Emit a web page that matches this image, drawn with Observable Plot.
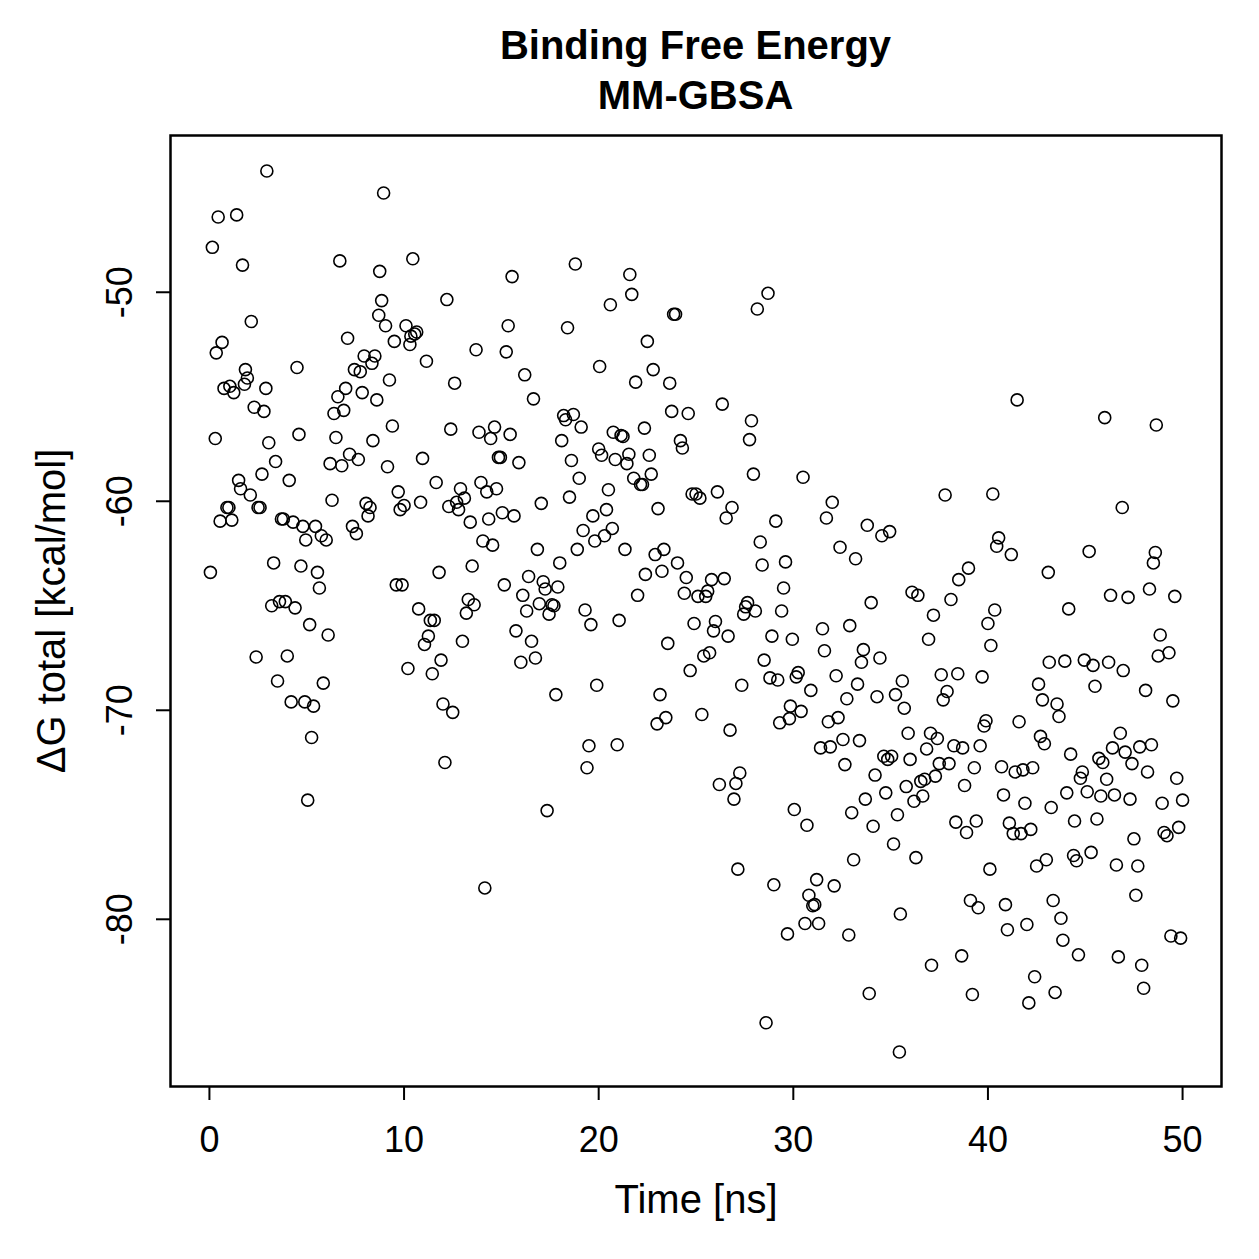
<!DOCTYPE html>
<html>
<head>
<meta charset="utf-8">
<script src="https://cdn.jsdelivr.net/npm/d3@7"></script>
<script src="https://cdn.jsdelivr.net/npm/@observablehq/plot@0.6"></script>
<style>
  body { margin: 0; background: #fff; }
  #wrap { position: relative; width: 1259px; height: 1259px; font-family: "Liberation Sans", Arial, Helvetica, sans-serif; }
  #title { position: absolute; left: 170px; width: 1051px; top: 20px; text-align: center; font-weight: bold; font-size: 40px; line-height: 50px; color: #000; }
  #chart { position: absolute; left: 0; top: 0; }
</style>
</head>
<body>
<div id="wrap">
  <div id="chart"></div>
  <div id="title">Binding Free Energy<br>MM-GBSA</div>
</div>
<script>
const titleLines = ["Binding Free Energy", "MM-GBSA"];
const xLabel = "Time [ns]";
const yLabel = "ΔG total [kcal/mol]";
const xTicks = [0, 10, 20, 30, 40, 50];
const yTicks = [-50, -60, -70, -80];

const time = [
0.05,0.15,0.3,0.35,0.45,0.55,0.65,0.75,0.9,1.0,1.05,1.15,1.25,1.4,1.5,1.6,1.7,1.8,1.85,1.95,
2.1,2.15,2.3,2.4,2.5,2.6,2.7,2.8,2.9,2.95,3.05,3.2,3.3,3.4,3.5,3.6,3.7,3.8,3.9,4.0,
4.1,4.2,4.3,4.4,4.5,4.6,4.7,4.8,4.9,4.95,5.05,5.15,5.25,5.35,5.45,5.55,5.65,5.75,5.85,6.0,
6.1,6.2,6.3,6.4,6.5,6.6,6.7,6.8,6.9,7.0,7.1,7.2,7.35,7.45,7.55,7.65,7.75,7.85,7.95,8.05,
8.15,8.25,8.35,8.4,8.5,8.6,8.7,8.75,8.85,8.95,9.05,9.15,9.25,9.4,9.5,9.6,9.7,9.8,9.9,10.0,
10.1,10.2,10.3,10.35,10.45,10.55,10.65,10.75,10.85,10.95,11.05,11.15,11.25,11.35,11.45,11.55,11.65,11.8,11.9,12.0,
12.1,12.2,12.3,12.4,12.5,12.6,12.7,12.8,12.9,13.0,13.1,13.2,13.3,13.4,13.5,13.6,13.7,13.85,13.95,14.05,
14.15,14.25,14.35,14.45,14.55,14.65,14.75,14.85,14.95,15.05,15.15,15.25,15.35,15.45,15.55,15.65,15.75,15.9,16.0,16.1,
16.2,16.3,16.4,16.55,16.65,16.75,16.85,16.95,17.05,17.15,17.25,17.35,17.45,17.6,17.7,17.8,17.9,18.0,18.1,18.2,
18.3,18.4,18.5,18.6,18.7,18.8,18.9,19.0,19.1,19.2,19.3,19.4,19.5,19.6,19.7,19.8,19.9,20.0,20.05,20.15,
20.3,20.4,20.5,20.6,20.7,20.75,20.85,20.95,21.05,21.15,21.25,21.35,21.45,21.55,21.6,21.7,21.8,21.9,22.0,22.15,
22.25,22.35,22.4,22.5,22.6,22.7,22.8,22.9,23.0,23.05,23.15,23.25,23.35,23.45,23.55,23.65,23.75,23.85,23.95,24.05,
24.2,24.3,24.4,24.5,24.6,24.7,24.8,24.9,25.0,25.1,25.2,25.3,25.4,25.5,25.6,25.7,25.8,25.9,26.0,26.1,
26.2,26.35,26.45,26.55,26.65,26.75,26.85,26.95,27.05,27.15,27.25,27.35,27.45,27.55,27.65,27.75,27.85,27.95,28.05,28.15,
28.3,28.4,28.5,28.6,28.7,28.8,28.9,29.0,29.1,29.2,29.3,29.4,29.5,29.6,29.7,29.8,29.85,29.95,30.05,30.15,
30.25,30.4,30.5,30.6,30.7,30.8,30.9,31.0,31.1,31.2,31.3,31.4,31.5,31.6,31.7,31.8,31.9,32.0,32.1,32.2,
32.3,32.4,32.55,32.65,32.75,32.85,32.9,33.0,33.1,33.2,33.3,33.4,33.5,33.6,33.7,33.8,33.9,34.0,34.1,34.2,
34.3,34.45,34.55,34.65,34.75,34.85,34.95,35.05,35.15,35.25,35.35,35.45,35.5,35.6,35.7,35.8,35.9,36.0,36.1,36.2,
36.3,36.4,36.55,36.65,36.75,36.85,36.95,37.05,37.1,37.2,37.3,37.4,37.5,37.6,37.7,37.8,37.9,38.0,38.1,38.25,
38.35,38.45,38.5,38.65,38.7,38.8,38.9,39.0,39.1,39.2,39.3,39.4,39.5,39.6,39.7,39.8,39.9,40.0,40.1,40.15,
40.25,40.35,40.45,40.55,40.7,40.8,40.9,41.0,41.1,41.2,41.3,41.4,41.5,41.6,41.7,41.8,41.9,42.0,42.1,42.2,
42.3,42.4,42.5,42.6,42.7,42.8,42.9,43.0,43.1,43.15,43.25,43.35,43.45,43.55,43.65,43.75,43.85,43.95,44.05,44.15,
44.25,44.4,44.45,44.55,44.65,44.75,44.85,44.95,45.1,45.2,45.3,45.4,45.5,45.6,45.7,45.8,45.9,46.0,46.1,46.2,
46.3,46.4,46.5,46.6,46.7,46.8,46.9,46.95,47.05,47.2,47.3,47.4,47.5,47.6,47.7,47.8,47.9,48.0,48.1,48.2,
48.3,48.4,48.5,48.6,48.65,48.75,48.85,48.95,49.05,49.2,49.3,49.4,49.5,49.6,49.7,49.8,49.9,50.0
];

const dG = [
-63.4,-47.85,-57.0,-52.9,-46.4,-60.95,-52.4,-54.6,-60.3,-60.3,-54.5,-60.9,-54.8,-46.3,-59.0,-59.4,-48.7,-54.4,-53.7,-54.1,
-59.7,-51.4,-55.5,-67.45,-60.3,-60.3,-58.7,-55.7,-54.6,-44.2,-57.2,-65.0,-62.95,-58.1,-68.6,-64.8,-60.85,-60.85,-64.8,-67.4,
-59.0,-69.6,-61.0,-65.1,-53.6,-56.8,-63.1,-61.2,-69.6,-61.85,-74.3,-65.9,-71.3,-69.8,-61.2,-63.4,-64.15,-61.65,-68.7,-61.85,
-66.4,-58.2,-59.95,-55.8,-56.95,-55.0,-48.5,-58.3,-55.65,-54.6,-52.2,-57.75,-61.2,-53.7,-61.55,-58.0,-53.8,-54.8,-53.05,-60.1,
-60.7,-60.3,-53.4,-57.1,-53.05,-55.15,-51.1,-49.0,-50.4,-45.25,-51.6,-58.35,-54.2,-56.4,-52.35,-64.0,-59.55,-60.4,-64.0,-60.2,
-51.6,-68.0,-52.5,-52.1,-48.4,-52.0,-51.9,-65.15,-60.05,-57.95,-66.85,-53.3,-66.45,-65.7,-68.25,-65.7,-59.1,-63.4,-67.6,-69.7,
-72.5,-50.35,-60.25,-56.55,-70.1,-54.35,-60.05,-60.4,-59.4,-66.7,-59.85,-65.35,-64.7,-61.0,-63.1,-64.95,-52.75,-56.7,-59.1,-61.9,
-78.5,-59.55,-60.85,-57.0,-62.1,-56.45,-59.4,-57.9,-57.9,-60.55,-64.0,-52.85,-51.6,-56.8,-49.25,-60.7,-66.2,-58.15,-67.7,-64.5,
-53.95,-65.25,-63.6,-66.7,-55.1,-67.5,-62.3,-64.9,-60.1,-63.85,-64.2,-74.8,-65.4,-64.95,-65.0,-69.25,-64.1,-62.95,-57.1,-55.9,
-56.1,-51.7,-59.8,-58.05,-55.85,-48.65,-62.3,-58.9,-56.45,-61.4,-65.2,-72.75,-71.7,-65.9,-60.7,-61.9,-68.8,-57.5,-53.55,-57.8,
-61.65,-60.4,-59.45,-50.6,-61.3,-56.7,-58.0,-71.65,-65.7,-56.85,-56.9,-62.3,-58.2,-57.75,-49.15,-50.1,-58.9,-54.3,-64.5,-59.2,
-59.2,-56.5,-63.5,-52.35,-57.8,-58.7,-53.7,-62.55,-70.65,-60.35,-69.25,-63.35,-62.3,-70.35,-66.8,-54.35,-55.7,-51.05,-51.05,-62.95,
-57.1,-57.45,-64.4,-63.65,-55.8,-68.1,-59.65,-65.85,-59.65,-64.55,-59.85,-70.2,-67.4,-64.55,-64.3,-67.25,-63.75,-66.2,-65.75,-59.55,
-73.55,-55.35,-63.7,-60.8,-66.45,-70.95,-60.3,-74.25,-73.5,-77.6,-73.0,-68.8,-65.4,-65.05,-64.85,-57.05,-56.15,-58.7,-65.25,-50.8,
-61.95,-63.05,-67.6,-84.95,-50.05,-68.45,-66.45,-78.35,-60.95,-68.55,-70.6,-65.25,-64.15,-62.9,-80.7,-70.4,-69.8,-66.6,-74.75,-68.4,
-68.2,-70.05,-58.85,-80.2,-75.5,-78.85,-69.05,-79.35,-79.3,-78.1,-80.2,-71.8,-66.1,-67.15,-60.8,-70.55,-71.75,-60.05,-78.4,-68.35,
-70.35,-62.2,-71.4,-72.6,-69.45,-80.75,-65.95,-74.9,-77.15,-62.75,-68.75,-71.45,-67.7,-67.1,-74.25,-61.15,-83.55,-64.85,-75.55,-73.1,
-69.35,-67.5,-61.65,-72.2,-73.95,-72.35,-61.45,-72.2,-76.4,-69.25,-75.0,-86.35,-79.75,-68.6,-69.9,-73.65,-71.1,-72.35,-64.35,-74.35,
-77.05,-64.5,-73.4,-74.1,-73.3,-71.85,-66.6,-71.1,-82.2,-65.45,-73.15,-71.35,-72.55,-68.3,-69.5,-59.7,-69.1,-72.55,-64.7,-71.7,
-75.35,-68.25,-63.75,-81.75,-71.8,-73.6,-75.85,-63.2,-79.1,-83.6,-72.75,-75.3,-79.45,-71.7,-68.4,-70.75,-70.5,-65.85,-77.6,-66.9,
-59.65,-65.2,-62.15,-61.75,-72.7,-74.05,-79.3,-80.5,-75.4,-62.55,-75.9,-72.95,-55.15,-70.55,-75.9,-72.85,-74.45,-80.25,-84.0,-75.7,
-72.75,-82.75,-77.45,-68.75,-71.25,-69.5,-71.6,-77.15,-63.4,-67.7,-74.65,-79.1,-83.5,-69.7,-70.3,-79.95,-81.0,-67.65,-73.95,-65.15,
-72.1,-76.95,-75.3,-77.2,-81.7,-73.25,-72.95,-67.6,-73.9,-62.4,-76.8,-67.85,-68.85,-75.2,-72.3,-74.1,-72.5,-56.0,-73.3,-67.7,
-64.5,-71.8,-74.05,-77.4,-81.8,-71.1,-60.3,-68.1,-72.0,-64.6,-74.25,-72.55,-76.15,-78.85,-77.45,-71.75,-82.2,-83.3,-69.05,-72.95,
-64.2,-71.65,-62.95,-62.45,-56.35,-67.4,-66.4,-74.45,-75.85,-76.0,-67.25,-80.8,-69.55,-64.55,-73.25,-75.6,-80.9,-74.3
];

const data = time.map((t, i) => ({time: t, dG: dG[i]}));
const font = "'Liberation Sans', Arial, Helvetica, sans-serif";

const chart = Plot.plot({
  width: 1259,
  height: 1259,
  marginLeft: 170,
  marginRight: 38,
  marginTop: 135,
  marginBottom: 173,
  style: {fontFamily: font, background: "#fff", color: "#000"},
  x: {domain: [-2, 52]},
  y: {domain: [-88, -42.5]},
  marks: [
    Plot.axisX({ticks: xTicks, tickSize: 14, tickPadding: 26, fontSize: 36, strokeWidth: 2, label: null, tickFormat: d => String(d)}),
    Plot.axisY({ticks: yTicks, tickSize: 14, strokeWidth: 2, label: null, tickFormat: () => ""}),
    Plot.text(yTicks, {y: d => d, text: d => String(d), frameAnchor: "left", dx: -50, rotate: -90, fontSize: 36, textAnchor: "middle", lineAnchor: "middle"}),
    Plot.text([xLabel], {text: d => d, frameAnchor: "bottom", dy: 114, fontSize: 40, textAnchor: "middle", lineAnchor: "middle"}),
    Plot.text([yLabel], {text: d => d, frameAnchor: "left", dx: -118, rotate: -90, fontSize: 40, textAnchor: "middle", lineAnchor: "middle"}),
    Plot.dot(data, {x: "time", y: "dG", r: 6, stroke: "black", strokeWidth: 1.6, fill: "none"}),
    Plot.frame({stroke: "black", strokeWidth: 2.5})
  ]
});
document.getElementById("chart").appendChild(chart);
</script>
</body>
</html>
